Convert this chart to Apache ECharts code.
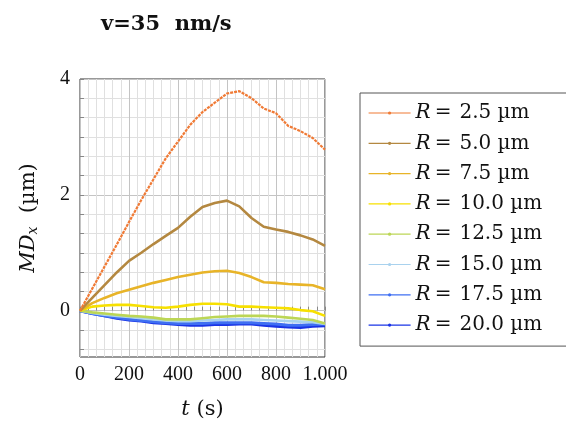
<!DOCTYPE html>
<html>
<head>
<meta charset="utf-8">
<script src="https://cdn.jsdelivr.net/npm/echarts@6/dist/echarts.min.js"></script>
<style>
  html, body { margin: 0; padding: 0; background: #fff; }
  #chart { width: 566px; height: 425px; }
</style>
</head>
<body>
<div id="chart"></div>
<script>
// sample times (s)
const times = [0, 50, 100, 150, 200, 250, 300, 350, 400, 450, 500, 550, 600, 650, 700, 750, 800, 850, 900, 950, 1000]

// MD_x (µm) per radius
const r25 = [0, 0.38, 0.76, 1.14, 1.53, 1.91, 2.27, 2.63, 2.92, 3.21, 3.43, 3.59, 3.75, 3.79, 3.67, 3.49, 3.41, 3.19, 3.10, 2.98, 2.78]
const r50 = [0, 0.22, 0.44, 0.66, 0.86, 1.00, 1.15, 1.29, 1.43, 1.62, 1.79, 1.86, 1.90, 1.80, 1.60, 1.45, 1.40, 1.36, 1.30, 1.23, 1.12]
const r75 = [0, 0.13, 0.22, 0.30, 0.36, 0.42, 0.48, 0.53, 0.58, 0.62, 0.66, 0.68, 0.69, 0.65, 0.58, 0.49, 0.48, 0.46, 0.45, 0.44, 0.37]
const r100 = [0, 0.07, 0.09, 0.10, 0.10, 0.08, 0.06, 0.05, 0.07, 0.10, 0.12, 0.12, 0.11, 0.07, 0.07, 0.06, 0.05, 0.04, 0.01, -0.01, -0.09]
const r125 = [0, -0.03, -0.05, -0.07, -0.09, -0.10, -0.12, -0.15, -0.15, -0.15, -0.13, -0.11, -0.10, -0.09, -0.09, -0.09, -0.10, -0.12, -0.14, -0.16, -0.22]
const r150 = [0, -0.04, -0.07, -0.09, -0.11, -0.13, -0.15, -0.17, -0.18, -0.18, -0.17, -0.16, -0.15, -0.15, -0.15, -0.16, -0.17, -0.18, -0.19, -0.20, -0.23]
const r175 = [0, -0.05, -0.09, -0.12, -0.15, -0.17, -0.19, -0.21, -0.22, -0.22, -0.22, -0.21, -0.21, -0.21, -0.21, -0.22, -0.23, -0.25, -0.25, -0.24, -0.23]
const r200 = [0, -0.05, -0.09, -0.13, -0.16, -0.18, -0.21, -0.22, -0.24, -0.25, -0.25, -0.24, -0.24, -0.23, -0.23, -0.25, -0.27, -0.28, -0.29, -0.27, -0.26]

const names = ['R = 2.5 µm', 'R = 5.0 µm', 'R = 7.5 µm', 'R = 10.0 µm', 'R = 12.5 µm', 'R = 15.0 µm', 'R = 17.5 µm', 'R = 20.0 µm']
const colors = ['#f07a35', '#b48840', '#e8b428', '#f7e000', '#bcd656', '#a9d2ee', '#3f6ff2', '#1a34e6']
const values = [r25, r50, r75, r100, r125, r150, r175, r200]

// axis ticks
const xTickLabels = ['0', '200', '400', '600', '800', '1.000']
const yGridTicks = [-0.6667, -0.3333, 0, 0.3333, 0.6667, 1, 1.3333, 1.6667, 2, 2.3333, 2.6667, 3, 3.3333, 3.6667, 4]
const yLabelTicks = [0, 2, 4]

const serif = '"Liberation Serif", "DejaVu Serif", serif'
const wideSerif = '"DejaVu Serif", serif'

const chart = echarts.init(document.getElementById('chart'), null, { renderer: 'canvas' })

const series = names.map((name, i) => ({
  name,
  type: 'line',
  data: times.map((t, k) => [t, values[i][k]]),
  symbol: 'circle',
  symbolSize: 3,
  showSymbol: false,
  lineStyle: i === 0
    ? { color: colors[i], width: 2.2, type: [3, 1] }
    : { color: colors[i], width: i >= 6 ? 3 : 2.6 },
  itemStyle: { color: colors[i] },
  emphasis: { disabled: true },
  z: 10 - i,
}))

chart.setOption({
  animation: false,
  title: {
    text: 'v=35  nm/s',
    left: 96,
    top: 9,
    textStyle: { fontFamily: '"DejaVu Serif", serif', fontWeight: 'bold', fontSize: 21, color: '#111' },
  },
  grid: { left: 80, right: 241, top: 79, bottom: 66, show: true, borderColor: '#333', borderWidth: 1, backgroundColor: 'transparent' },
  legend: {
    left: 360,
    top: 93,
    orient: 'vertical',
    data: names,
    itemWidth: 42,
    itemHeight: 4,
    itemGap: 8.3,
    itemTextGap: 6,
    lineStyle: { width: 1.2, type: 'solid' },
    padding: [9, 40, 10, 8],
    borderColor: '#555',
    borderWidth: 1,
    backgroundColor: '#fff',
    formatter: (n) => '{i|R}{e|=}' + n.slice(4),
    textStyle: {
      fontFamily: wideSerif,
      fontSize: 20,
      lineHeight: 22,
      color: '#111',
      rich: {
        i: { fontStyle: 'italic', fontFamily: wideSerif, fontSize: 20 },
        e: { fontFamily: wideSerif, fontSize: 20, padding: [0, 8, 0, 4] },
      },
    },
  },
  xAxis: [
    {
      type: 'value',
      min: 0,
      max: 1000,
      interval: 200,
      name: '{i|t} (s)',
      nameLocation: 'middle',
      nameGap: 42,
      nameTextStyle: { fontFamily: wideSerif, fontSize: 21, color: '#111', rich: { i: { fontStyle: 'italic', fontFamily: wideSerif, fontSize: 21 } } },
      axisLine: { show: false },
      axisTick: { show: true, inside: true, length: 4, lineStyle: { color: '#888' } },
      minorTick: { show: true, splitNumber: 6, length: 4, lineStyle: { color: '#888' } },
      axisLabel: {
        margin: 8,
        fontFamily: serif,
        fontSize: 20,
        color: '#111',
        formatter: (v) => xTickLabels[Math.round(v / 200)],
      },
      splitLine: { show: true, lineStyle: { color: '#c4c4c4', width: 1 } },
      minorSplitLine: { show: true, lineStyle: { color: '#e0e0e0', width: 1 } },
    },
  ],
  yAxis: [
    {
      type: 'value',
      min: -0.8,
      max: 4,
      name: '{i|MD}{s|x}  (µm)',
      nameLocation: 'middle',
      nameRotate: 90,
      nameGap: 40,
      nameTextStyle: {
        fontFamily: wideSerif, fontSize: 21, color: '#111',
        rich: {
          i: { fontStyle: 'italic', fontFamily: wideSerif, fontSize: 21 },
          s: { fontStyle: 'italic', fontFamily: wideSerif, fontSize: 14, verticalAlign: 'bottom', padding: [9, 0, 0, 0] },
        },
      },
      axisLine: { show: false },
      axisTick: { show: true, inside: true, length: 4, customValues: yGridTicks, lineStyle: { color: '#888' } },
      axisLabel: { customValues: yLabelTicks, margin: 10, fontFamily: serif, fontSize: 20, color: '#111' },
      splitLine: { show: true, lineStyle: { color: '#e0e0e0', width: 1 } },
    },
    {
      type: 'value',
      min: -0.8,
      max: 4,
      position: 'right',
      axisLine: { show: false },
      axisTick: { show: false, customValues: yLabelTicks },
      axisLabel: { show: false, customValues: yLabelTicks },
      splitLine: { show: true, lineStyle: { color: '#c4c4c4', width: 1 } },
    },
  ],
  series,
})
</script>
</body>
</html>
